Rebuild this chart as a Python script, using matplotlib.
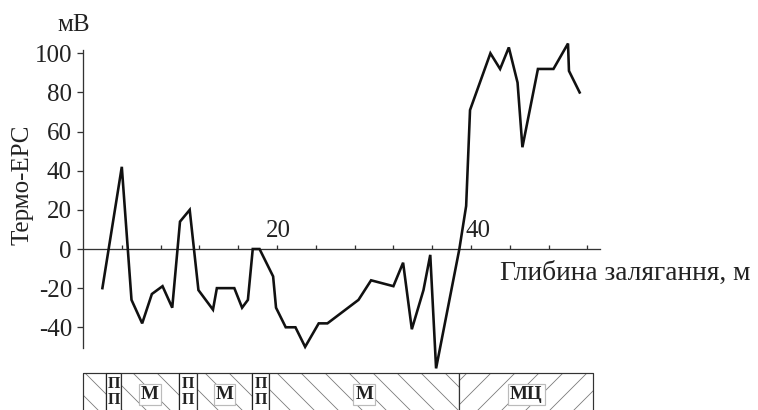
import numpy as np
import matplotlib
matplotlib.use('Agg')
import matplotlib.pyplot as plt
from matplotlib.patches import Rectangle

# глибина (м) і термо-ЕРС (мВ)
depth = [2.0, 4.0, 5.0, 6.1, 7.1, 8.2, 9.2, 10.0, 11.0, 11.9, 13.4, 13.8, 15.6, 16.4,
         17.0, 17.5, 18.2, 19.6, 19.9, 20.9, 21.9, 22.9, 24.3, 25.2, 28.4, 29.7, 32.0,
         33.0, 33.9, 35.1, 35.8, 36.4, 38.8, 39.5, 39.9, 42.0, 43.0, 43.9, 44.8, 45.3,
         46.9, 48.5, 50.0, 50.1, 51.2]
emf = [-20, 42, -26, -38, -23, -19, -30, 14, 20, -21, -31, -20, -20, -30,
       -26, 0, 0, -14, -30, -40, -40, -50, -38, -38, -26, -16, -19,
       -7, -41, -21, -3, -61, 0, 22, 71, 100, 92, 103, 85, 52,
       92, 92, 105, 91, 80]

# літологічна колонка
layer_top = [0, 2.4, 3.9, 9.9, 11.75, 17.4, 19.2, 38.8]
layer_bot = [2.4, 3.9, 9.9, 11.75, 17.4, 19.2, 38.8, 52.6]
layer_kind = ['М', 'П', 'М', 'П', 'М', 'П', 'М', 'МЦ']
layer_text = ['', 'П', 'М', 'П', 'М', 'П', 'М', 'МЦ']

plt.rcParams['font.family'] = 'Liberation Serif'
plt.rcParams['hatch.linewidth'] = 0.8

fig = plt.figure(figsize=(758 / 72, 410 / 72), dpi=72)
ax = fig.add_axes([0, 0, 1, 1])
ax.set_xlim(-83 / 9.7, (758 - 83) / 9.7)
ax.set_ylim((249 - 410) / 1.957, 249 / 1.957)
ax.patch.set_alpha(0)

ax.plot(depth, emf, color='#111111', lw=2.6, solid_joinstyle='miter', zorder=3)

for s in ['top', 'right']:
    ax.spines[s].set_visible(False)
ax.spines['left'].set_position(('data', 0))
ax.spines['bottom'].set_position(('data', 0))
ax.spines['left'].set_bounds(-50.5, 101.7)
ax.spines['bottom'].set_bounds(0, 53.3)
for s in ['left', 'bottom']:
    ax.spines[s].set_color('#333333')
    ax.spines[s].set_linewidth(1.3)

ax.set_yticks(np.arange(-40, 101, 20))
ax.set_yticklabels([str(v) for v in range(-40, 101, 20)])
ax.tick_params(axis='y', direction='out', length=6, width=1.3, color='#333333',
               pad=5, labelsize=25, labelcolor='#222222')
ax.set_xticks(np.arange(4, 53, 4))
ax.tick_params(axis='x', direction='in', length=4, width=1.3, color='#333333',
               labelbottom=False)

ax.text(20.1, 3.5, '20', ha='center', va='bottom', fontsize=25, color='#222222')
ax.text(40.7, 3.5, '40', ha='center', va='bottom', fontsize=25, color='#222222')
ax.text(43.0, -12.5, 'Глибина залягання, м', ha='left', va='center', fontsize=27.5,
        color='#222222')
ax.text(-1.0, 114.5, 'мВ', ha='center', va='center', fontsize=25, color='#222222')
ax.text(-6.2, 32.7, 'Термо-ЕРС', ha='center', va='center', rotation=90, fontsize=25,
        color='#222222')

# колонка під графіком
y0 = (249 - 373) / 1.957
h = -30
for top, bot, kind, lab in zip(layer_top, layer_bot, layer_kind, layer_text):
    if kind == 'П':
        r = Rectangle((top, y0), bot - top, h, facecolor='white', edgecolor='#222222',
                      lw=1.2, clip_on=False)
        ax.add_patch(r)
        for yy in [y0 - 5.5, y0 - 14.0]:
            ax.text((top + bot) / 2, yy, lab, ha='center', va='center', fontsize=16,
                    fontweight='bold', color='#222222')
    else:
        hatch = '\\' if kind == 'М' else '/'
        r = Rectangle((top, y0), bot - top, h, facecolor='white', edgecolor='#777777',
                      hatch=hatch, lw=1.0, clip_on=False)
        ax.add_patch(r)
        r2 = Rectangle((top, y0), bot - top, h, facecolor='none', edgecolor='#333333',
                       lw=1.2, clip_on=False)
        ax.add_patch(r2)
        if lab:
            ax.text((top + bot) / 2, y0 - 11, lab, ha='center', va='center', fontsize=19,
                    fontweight='bold', color='#222222',
                    bbox=dict(boxstyle='square,pad=0.1', fc='white', ec='#bbbbbb', lw=1.2))

fig.savefig('out.png', dpi=72)
